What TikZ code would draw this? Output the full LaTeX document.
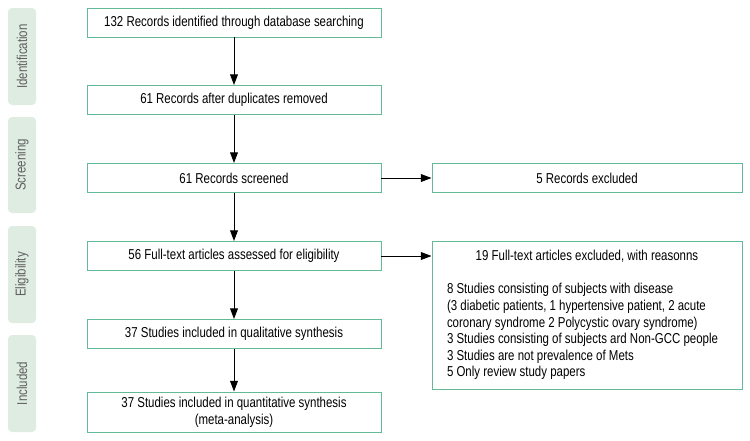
\documentclass[tikz,border=0pt]{standalone}
\usepackage{fontspec}
\setmainfont{Liberation Sans}[FakeStretch=0.8]
\usetikzlibrary{arrows.meta}
\definecolor{boxline}{RGB}{100,185,150}
\definecolor{phasefill}{RGB}{222,236,226}
\definecolor{phasetext}{RGB}{95,95,95}
\begin{document}
\begin{tikzpicture}[font=\fontsize{10.2}{11.8}\selectfont]
    \tikzstyle{record}=[rectangle,draw=boxline,line width=0.7pt,minimum height=0.725cm,minimum width=7.35cm,align=center,inner sep=2pt];
    \tikzstyle{excluded}=[rectangle,draw=boxline,line width=0.7pt,minimum width=7.75cm,inner xsep=0.375cm];
    \tikzstyle{phase}=[rectangle,rounded corners=0.1cm,fill=phasefill,text=phasetext,rotate=90,minimum height=0.7cm,inner sep=0pt];
    \tikzstyle{flow}=[-{Triangle[width=5.5pt,length=7.5pt]},line width=0.7pt];

    \useasboundingbox (0,0) rectangle (18.75,-11.025);

    \node[phase,minimum width=2.425cm] (ident) at (0.55,-1.4125) {Identification};
    \node[phase,minimum width=2.4cm] (screen) at (0.55,-4.125) {Screening};
    \node[phase,minimum width=2.425cm] (elig) at (0.55,-6.8625) {Eligibility};
    \node[phase,minimum width=2.425cm] (incl) at (0.55,-9.5875) {Included};

    \node[record] (identified) at (5.85,-0.5625) {132 Records identified through database searching};
    \node[record] (nodup) at (5.85,-2.5) {61 Records after duplicates removed};
    \node[record] (screened) at (5.85,-4.45) {61 Records screened};
    \node[record] (fulltext) at (5.85,-6.4) {56 Full-text articles assessed for eligibility};
    \node[record] (qualit) at (5.85,-8.35) {37 Studies included in qualitative synthesis};
    \node[record,minimum height=1cm] (quantit) at (5.85,-10.3) {37 Studies included in quantitative synthesis\\(meta-analysis)};

    \node[record,minimum width=7.75cm] (recexcl) at (14.675,-4.45) {5 Records excluded};
    \node[excluded,minimum height=3.7cm,align=left] (ftexcl) at (14.675,-7.875)
        {\makebox[7cm]{19 Full-text articles excluded, with reasonns}\\[11.8pt]
         8 Studies consisting of subjects with disease\\
         (3 diabetic patients, 1 hypertensive patient, 2 acute\\
         coronary syndrome 2 Polycystic ovary syndrome)\\
         3 Studies consisting of subjects ard Non-GCC people\\
         3 Studies are not prevalence of Mets\\
         5 Only review study papers};

    \draw[flow] (identified) -- (nodup);
    \draw[flow] (nodup) -- (screened);
    \draw[flow] (screened) -- (fulltext);
    \draw[flow] (fulltext) -- (qualit);
    \draw[flow] (qualit) -- (quantit);
    \draw[flow] (screened) -- (recexcl);
    \draw[flow] (fulltext.east) -- (fulltext.east -| ftexcl.west);
\end{tikzpicture}
\end{document}
